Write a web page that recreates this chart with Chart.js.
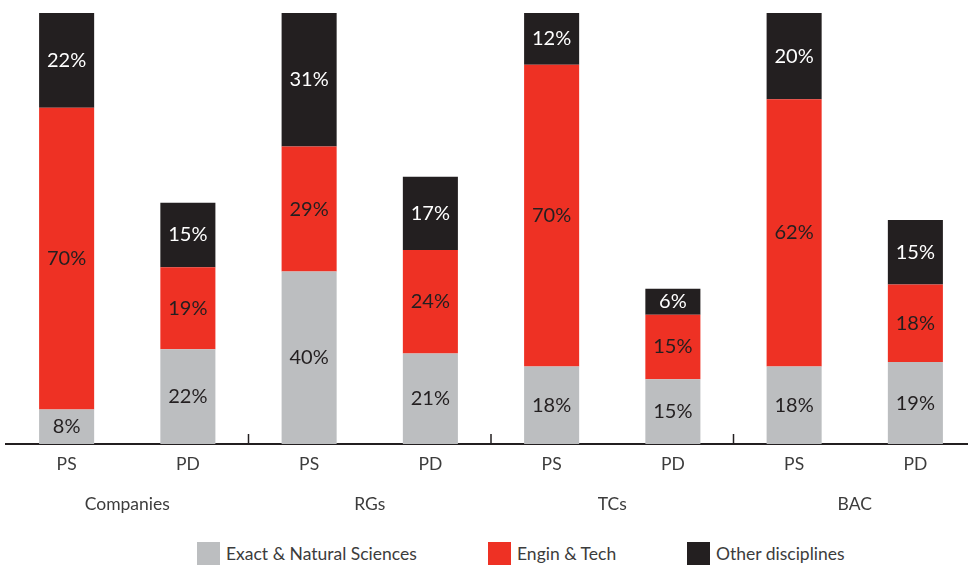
<!DOCTYPE html>
<html>
<head>
<meta charset="utf-8">
<script src="https://cdn.jsdelivr.net/npm/chart.js@4/dist/chart.umd.min.js"></script>
<style>
    html, body { margin: 0; padding: 0; background: #ffffff; overflow: hidden; }
    #wrap { position: relative; width: 980px; height: 566px; }
    #sectorChart { position: absolute; left: 0; top: 0; }
    #legend {
        position: absolute; left: 0; top: 542px; width: 980px; height: 23px;
        font-family: Lato, 'Liberation Sans', sans-serif;
        font-size: 17.5px; color: #3c3c3c;
    }
    #legend .item { position: absolute; top: 0; display: flex; align-items: center; height: 23px; white-space: nowrap; }
    #legend .item:nth-child(1) { left: 197px; }
    #legend .item:nth-child(2) { left: 488px; }
    #legend .item:nth-child(3) { left: 687px; }
    #legend .box { width: 23px; height: 23px; margin-right: 6px; }
</style>
</head>
<body>
<div id="wrap">
    <canvas id="sectorChart" width="980" height="530"></canvas>
    <div id="legend"></div>
</div>
<script>
var categories = ['PS', 'PD', 'PS', 'PD', 'PS', 'PD', 'PS', 'PD'];
var groups = ['Companies', 'RGs', 'TCs', 'BAC'];
var seriesNames = ['Exact & Natural Sciences', 'Engin & Tech', 'Other disciplines'];
var exactSciences = [8, 22, 40, 21, 18, 15, 18, 19];
var enginTech = [70, 19, 29, 24, 70, 15, 62, 18];
var otherDisciplines = [22, 15, 31, 17, 12, 6, 20, 15];

var COLORS = ['#bcbec0', '#ee3124', '#231f20'];
var LABEL_COLORS = ['#231f20', '#231f20', '#ffffff'];
var AXIS_COLOR = '#231f20';
var FONT = "Lato, 'Liberation Sans', sans-serif";

Chart.defaults.font.family = FONT;
Chart.defaults.font.size = 17.5;
Chart.defaults.color = '#3c3c3c';

// writes the percentage in the middle of every segment
var segmentLabels = {
    id: 'segmentLabels',
    afterDatasetsDraw: function (chart) {
        var ctx = chart.ctx;
        ctx.save();
        ctx.font = '20px ' + FONT;
        ctx.textAlign = 'center';
        ctx.textBaseline = 'middle';
        chart.data.datasets.forEach(function (ds, d) {
            var meta = chart.getDatasetMeta(d);
            ctx.fillStyle = LABEL_COLORS[d];
            meta.data.forEach(function (bar, i) {
                ctx.fillText(ds.data[i] + '%', bar.x, (bar.y + bar.base) / 2);
            });
        });
        ctx.restore();
    }
};

// small upward ticks between the groups
var groupTicks = {
    id: 'groupTicks',
    afterDraw: function (chart) {
        var x = chart.scales.x;
        var ctx = chart.ctx;
        var bottom = chart.chartArea.bottom;
        ctx.save();
        ctx.strokeStyle = AXIS_COLOR;
        ctx.lineWidth = 1.5;
        for (var i = 2; i < categories.length; i += 2) {
            var px = (x.getPixelForTick(i - 1) + x.getPixelForTick(i)) / 2;
            ctx.beginPath();
            ctx.moveTo(px, bottom - 10);
            ctx.lineTo(px, bottom);
            ctx.stroke();
        }
        ctx.restore();
    }
};

var datasets = [exactSciences, enginTech, otherDisciplines].map(function (values, d) {
    return {
        label: seriesNames[d],
        data: values,
        backgroundColor: COLORS[d],
        borderWidth: 0,
        xAxisID: 'x',
        barPercentage: 0.454,
        categoryPercentage: 1.0
    };
});

var ctx = document.getElementById('sectorChart').getContext('2d');
var myChart = new Chart(ctx, {
    type: 'bar',
    plugins: [segmentLabels, groupTicks],
    data: {
        labels: categories,
        datasets: datasets
    },
    options: {
        responsive: false,
        animation: false,
        layout: {
            padding: { top: 13, left: 6, right: 4, bottom: 6 }
        },
        plugins: {
            legend: { display: false },
            tooltip: { enabled: false }
        },
        scales: {
            x: {
                stacked: true,
                position: 'bottom',
                grid: { display: false, drawTicks: false },
                border: { display: true, color: AXIS_COLOR, width: 2 },
                ticks: { padding: 10, color: '#3c3c3c' },
                afterFit: function (scale) { scale.height = 40; }
            },
            x2: {
                type: 'category',
                labels: groups,
                position: 'bottom',
                offset: true,
                grid: { display: false, drawTicks: false },
                border: { display: false },
                ticks: { padding: 10, color: '#3c3c3c' },
                afterFit: function (scale) { scale.height = 40; }
            },
            y: {
                stacked: true,
                display: false,
                min: 0,
                max: 100
            }
        }
    }
});

// legend built from the same names and colours
var legend = document.getElementById('legend');
seriesNames.forEach(function (name, d) {
    var $item = document.createElement('div');
    $item.className = 'item';
    var $box = document.createElement('span');
    $box.className = 'box';
    $box.style.background = COLORS[d];
    var $text = document.createElement('span');
    $text.textContent = name;
    $item.appendChild($box);
    $item.appendChild($text);
    legend.appendChild($item);
});
</script>
</body>
</html>
